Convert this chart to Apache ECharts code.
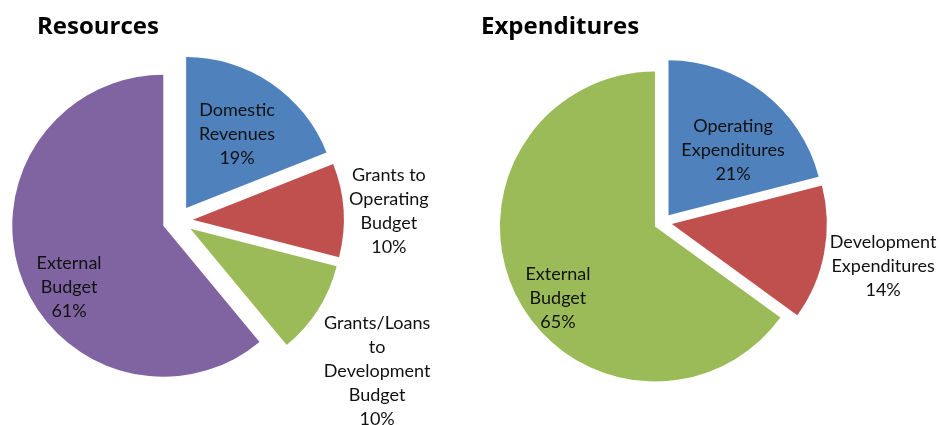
<!DOCTYPE html>
<html>
<head>
<meta charset="utf-8">
<script src="https://cdn.jsdelivr.net/npm/echarts@6/dist/echarts.min.js"></script>
<style>
  html, body { margin: 0; padding: 0; background: #fff; }
  #chart { width: 941px; height: 425px; }
</style>
</head>
<body>
<div id="chart"></div>
<script>
// Budget shares (percent)
const resourceNames = ['Domestic\nRevenues', 'Grants to\nOperating\nBudget', 'Grants/Loans\nto\nDevelopment\nBudget', 'External\nBudget'];
const resourceValues = [19, 10, 10, 61];
const expenditureNames = ['Operating\nExpenditures', 'Development\nExpenditures', 'External\nBudget'];
const expenditureValues = [21, 14, 65];

const BLUE = '#4F81BD', RED = '#C0504D', GREEN = '#9BBB59', PURPLE = '#8064A2';
const resourceColors = [BLUE, RED, GREEN, PURPLE];
const expenditureColors = [BLUE, RED, GREEN];

// Pie geometry: centre, radius, explode distance
const pies = [
  { center: [177.6, 220.6], r: 151, explode: 15.2 },
  { center: [663, 222.4], r: 155, explode: 9 }
];
// Label placement per slice: [distance as fraction of radius from the slice tip, angle shift in degrees]
const labelPlacement = [
  [[0.595, 0.3], [1.30, 1.2], [1.554, 4.9], [0.744, -13.2]],
  [[0.593, 6.8], [1.39, 0.5], [0.777, -9.3]]
];

const LABEL_FONT = '18px Lato, "Open Sans", sans-serif';
const TITLE_FONT = '"Open Sans", Lato, sans-serif';

function midAngles(values) {
  const total = values.reduce((a, b) => a + b, 0);
  let acc = 0;
  return values.map(v => {
    const mid = (acc + v / 2) / total * 360;
    acc += v;
    return mid;
  });
}

function dirOf(deg) {
  const a = deg * Math.PI / 180;
  return [Math.sin(a), -Math.cos(a)];
}

function pieSeries(idx, names, values, colors) {
  const p = pies[idx];
  return {
    type: 'pie',
    z: 2,
    center: p.center,
    radius: [0, p.r],
    startAngle: 90,
    clockwise: true,
    selectedMode: 'multiple',
    selectedOffset: p.explode,
    silent: true,
    emphasis: { disabled: true, scale: false },
    label: { show: false },
    labelLine: { show: false },
    data: values.map((v, i) => ({
      name: names[i],
      value: v,
      selected: true,
      itemStyle: { color: colors[i] }
    }))
  };
}

// Slice labels ("name\nvalue%"), placed from the same slice angles the pie uses
function labelSeries(idx, names, values) {
  const p = pies[idx];
  const mids = midAngles(values);
  return {
    type: 'custom',
    coordinateSystem: 'none',
    z: 10,
    silent: true,
    data: values.map((v, i) => [i, v]),
    renderItem: function (params, api) {
      const i = api.value(0);
      const v = api.value(1);
      const mid = mids[i];
      const d0 = dirOf(mid);
      const tipX = p.center[0] + p.explode * d0[0];
      const tipY = p.center[1] + p.explode * d0[1];
      const pl = labelPlacement[idx][i];
      const d1 = dirOf(mid + pl[1]);
      return {
        type: 'text',
        z2: 100,
        x: tipX + pl[0] * p.r * d1[0],
        y: tipY + pl[0] * p.r * d1[1],
        style: {
          text: names[i] + '\n' + v + '%',
          font: LABEL_FONT,
          lineHeight: 24,
          fill: '#111',
          align: 'center',
          verticalAlign: 'middle'
        }
      };
    }
  };
}

const chart = echarts.init(document.getElementById('chart'), null, { renderer: 'canvas' });
chart.setOption({
  animation: false,
  backgroundColor: '#ffffff',
  title: [
    { text: 'Resources', left: 37, top: 15, padding: 0, textStyle: { fontFamily: TITLE_FONT, fontWeight: 'bold', fontSize: 24, color: '#000' } },
    { text: 'Expenditures', left: 481, top: 15, padding: 0, textStyle: { fontFamily: TITLE_FONT, fontWeight: 'bold', fontSize: 24, color: '#000' } }
  ],
  series: [
    pieSeries(0, resourceNames, resourceValues, resourceColors),
    pieSeries(1, expenditureNames, expenditureValues, expenditureColors),
    labelSeries(0, resourceNames, resourceValues),
    labelSeries(1, expenditureNames, expenditureValues)
  ]
});
</script>
</body>
</html>
